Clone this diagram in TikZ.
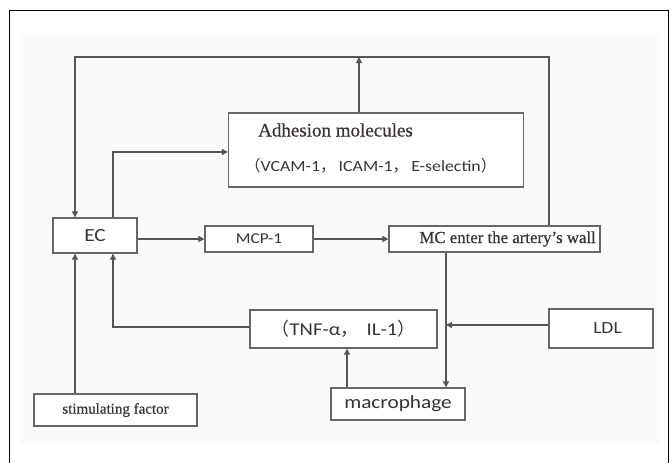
\documentclass[tikz,border=0pt]{standalone}
\usepackage{fontspec}
\setmainfont{Liberation Serif}[FakeBold=0.6]
\newfontfamily\calib{Carlito}[FakeStretch=1.15]
\newfontfamily\cjk{Noto Sans CJK SC}
\usetikzlibrary{arrows.meta}
\definecolor{txt}{HTML}{3A3434}
\definecolor{ln}{HTML}{555555}
\definecolor{bx}{HTML}{6A6666}
\definecolor{bg}{HTML}{F8FAFC}
\tikzset{
  box/.style={draw=bx, line width=1.3pt, fill=white, text=txt, inner sep=0pt},
  conn/.style={draw=ln, line width=1.1pt},
  arr/.style={conn, -{Triangle[length=6pt,width=6pt]}},
}
\begin{document}
\begin{tikzpicture}[x=1pt,y=-1pt]
\useasboundingbox (0,0) rectangle (672,463);
\fill[white] (0,0) rectangle (672,463);
\fill[bg] (20,33) rectangle (660,443);
\draw[black, line width=1pt] (9,463) -- (9,10) -- (668,10) -- (668,463);

% boxes
\node[box, minimum width=295pt, minimum height=74pt] (adh) at (376,150) {};
\node[text=txt, anchor=west, inner sep=0pt, font=\fontsize{19}{21}\selectfont] (adht) at (258,130) {Adhesion molecules};
\node[text=txt, anchor=west, inner sep=0pt, font=\calib\fontsize{15.5}{17}\selectfont] (adhs) at (245,166) {{\cjk （}VCAM-1{\cjk ，}\hspace{3pt}ICAM-1{\cjk ，}\hspace{3pt}E-selectin{\cjk ）}};
\node[box, minimum width=84pt, minimum height=35pt, font=\calib\fontsize{18.5}{20}\selectfont] (ec) at (95,235.5) {EC};
\node[box, minimum width=108pt, minimum height=26pt, font=\calib\fontsize{15}{17}\selectfont] (mcp) at (259,239) {MCP-1};
\node[box, minimum width=211pt, minimum height=26pt] (mc) at (494.5,239) {};
\node[text=txt, anchor=east, inner sep=0pt, font=\fontsize{16.8}{18}\selectfont] (mct) at (596,239) {MC enter the artery's wall};
\node[box, minimum width=187pt, minimum height=38pt, font=\calib\fontsize{18}{20}\selectfont] (tnf) at (343.5,329) {{\cjk （}TNF-α{\cjk ，}\hspace{8pt}IL-1{\cjk ）}};
\node[box, minimum width=104pt, minimum height=39pt, font=\calib\fontsize{17}{19}\selectfont] (ldl) at (601,328.5) {\hspace*{13pt}LDL};
\node[box, minimum width=163pt, minimum height=32pt, font=\fontsize{15}{17}\selectfont] (stim) at (115.5,410) {stimulating factor};
\node[box, minimum width=134pt, minimum height=32pt, font=\calib\fontsize{18.5}{20}\selectfont] (mac) at (398,404) {macrophage};

% coordinates
\coordinate (topR) at (549,57);
\coordinate (topL) at (75,57);
\coordinate (topM) at (359,57);
\coordinate (ecUp) at (113,152);
\coordinate (tnfL) at (113,327);
\coordinate (ldlJ) at (446,325);

% connectors
\draw[arr] (mc.north -| topR) -- (topR) -- (topL) -- (topL |- ec.north);
\draw[arr] (adh.north -| topM) -- (topM);
\draw[arr] (ec.north -| ecUp) -- (ecUp) -- (ecUp -| adh.west);
\draw[arr] (ec.east |- mcp.west) -- (mcp.west);
\draw[arr] (mcp.east) -- (mc.west |- mcp.east);
\draw[arr] (mc.south -| ldlJ) -- (ldlJ |- mac.north);
\draw[arr] (ldl.west |- ldlJ) -- (ldlJ);
\draw[arr] (mac.north -| 347,0) -- (tnf.south -| 347,0);
\draw[arr] (tnf.west |- tnfL) -- (tnfL) -- (tnfL |- ec.south);
\draw[arr] (stim.north -| topL) -- (topL |- ec.south);
\end{tikzpicture}
\end{document}
